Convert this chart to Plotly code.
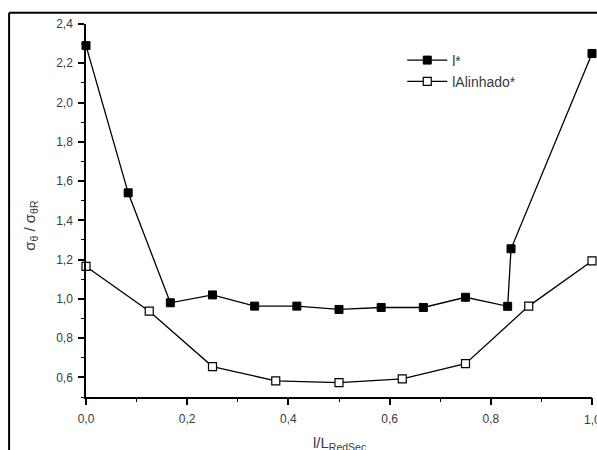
import plotly.graph_objects as go

# Data
x_l = [0.0, 1/12, 2/12, 3/12, 4/12, 5/12, 6/12, 7/12, 8/12, 9/12, 10/12, 0.84, 1.0]
y_l = [2.29, 1.54, 0.98, 1.02, 0.963, 0.963, 0.946, 0.956, 0.956, 1.008, 0.962, 1.255, 2.25]

x_al = [0.0, 0.125, 0.25, 0.375, 0.5, 0.625, 0.75, 0.875, 1.0]
y_al = [1.165, 0.937, 0.655, 0.582, 0.573, 0.592, 0.67, 0.963, 1.193]

series_names = ["l*", "lAlinhado*"]
last_x_label = "1,0"

FONT = "Liberation Sans, Arial, sans-serif"
TXT = "#3a3a3a"

fig = go.Figure()
fig.add_trace(go.Scatter(
    x=x_l, y=y_l, mode="lines+markers", name=series_names[0],
    line=dict(color="black", width=1.3),
    marker=dict(symbol="square", size=8, color="black", line=dict(color="black", width=1)),
    cliponaxis=False,
))
fig.add_trace(go.Scatter(
    x=x_al, y=y_al, mode="lines+markers", name=series_names[1],
    line=dict(color="black", width=1.3),
    marker=dict(symbol="square", size=8, color="white", line=dict(color="black", width=1.2)),
    cliponaxis=False,
))
# invisible trace to activate the minor-tick overlay axes
fig.add_trace(go.Scatter(x=[0, 1.0], y=[0.5, 2.4], xaxis="x2", yaxis="y2",
                         mode="markers", marker=dict(opacity=0), showlegend=False,
                         hoverinfo="skip"))

axis_font = dict(family=FONT, size=12, color=TXT)

fig.update_layout(
    width=597, height=450,
    margin=dict(l=86, r=5, t=24, b=53),
    paper_bgcolor="white", plot_bgcolor="white",
    separators=",.",
    showlegend=True,
    legend=dict(
        x=0.625, y=0.945, xanchor="left", yanchor="top",
        bgcolor="rgba(0,0,0,0)", font=dict(family=FONT, size=14, color=TXT),
        tracegroupgap=0, itemwidth=40,
    ),
    xaxis=dict(
        range=[0, 1.0], tick0=0, dtick=0.2, tickformat=".1f",
        showgrid=False, zeroline=False,
        showline=True, linecolor="black", linewidth=1.5,
        ticks="outside", ticklen=6, tickwidth=1.6, tickcolor="black",
        tickfont=axis_font, ticklabelstandoff=4,
    ),
    yaxis=dict(
        range=[0.5, 2.4], tick0=0, dtick=0.2, tickformat=".1f",
        showgrid=False, zeroline=False,
        showline=True, linecolor="black", linewidth=1.5,
        ticks="outside", ticklen=6, tickwidth=1.6, tickcolor="black",
        tickfont=axis_font, ticklabelstandoff=3,
    ),
    xaxis2=dict(
        overlaying="x", side="bottom", range=[0, 1.0], tick0=0, dtick=0.1,
        showgrid=False, zeroline=False, showline=False, showticklabels=False,
        ticks="outside", ticklen=4, tickwidth=1.3, tickcolor="black",
    ),
    yaxis2=dict(
        overlaying="y", side="left", range=[0.5, 2.4], tick0=0, dtick=0.1,
        showgrid=False, zeroline=False, showline=False, showticklabels=False,
        ticks="outside", ticklen=4, tickwidth=1.3, tickcolor="black",
    ),
    annotations=[
        dict(text="σ<sub>θ</sub> / σ<sub>θR</sub>", xref="paper", yref="paper",
             x=-0.11, y=0.46, textangle=-90, showarrow=False,
             font=dict(family=FONT, size=15, color=TXT),
             xanchor="center", yanchor="middle"),
        dict(text="l/L<sub>RedSec</sub>", xref="paper", yref="paper",
             x=0.5, y=-0.095, showarrow=False,
             font=dict(family=FONT, size=15, color=TXT),
             xanchor="center", yanchor="top"),
        dict(text=last_x_label, xref="x", yref="paper",
             x=1.0, y=-0.038, showarrow=False,
             font=axis_font, xanchor="center", yanchor="top"),
    ],
    shapes=[
        dict(type="line", xref="paper", yref="paper", x0=-0.152, x1=-0.152, y0=-0.2, y1=1.03,
             line=dict(color="black", width=2)),
        dict(type="line", xref="paper", yref="paper", x0=-0.152, x1=1.05, y0=1.03, y1=1.03,
             line=dict(color="black", width=2)),
    ],
)

fig.write_html("out.html")
